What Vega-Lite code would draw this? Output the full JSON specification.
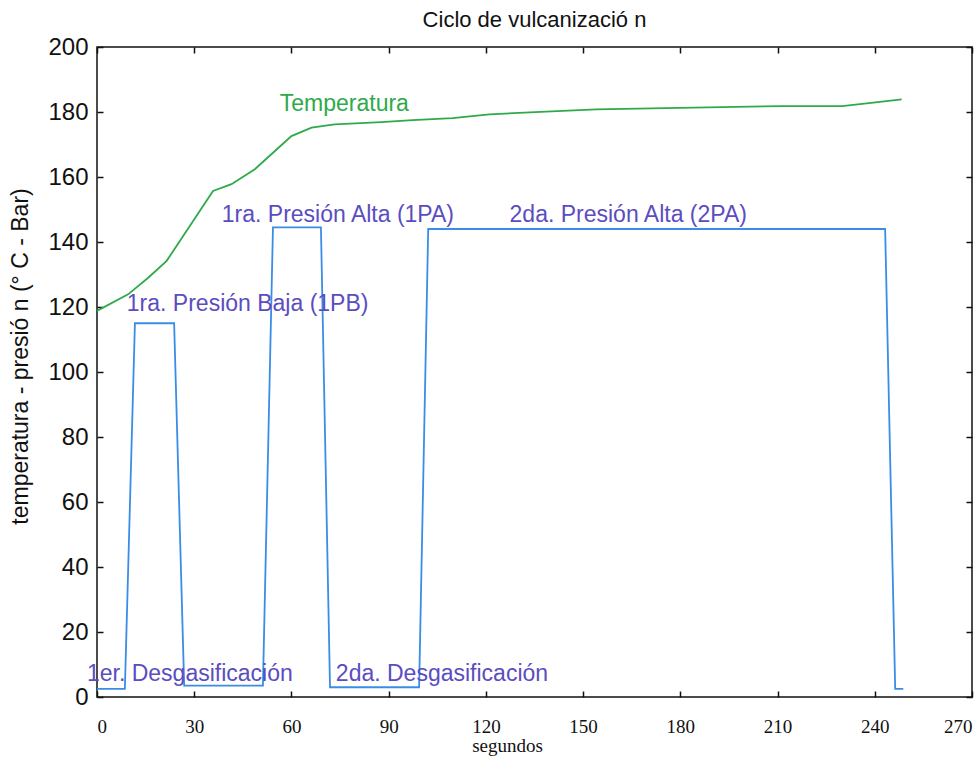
{
  "$schema": "https://vega.github.io/schema/vega-lite/v6.json",
  "width": 875,
  "height": 650,
  "autosize": {"type": "none"},
  "padding": {"left": 97, "top": 47, "right": 3, "bottom": 63},
  "background": "white",
  "title": {"text": "Ciclo de vulcanizació n", "font": "Liberation Sans", "fontSize": 22, "fontWeight": "normal", "color": "#111", "offset": 3},
  "config": {
    "view": {"stroke": "#111", "strokeWidth": 1.5},
    "axis": {"grid": false, "domain": false, "tickColor": "#111", "tickSize": -6, "tickWidth": 1.5, "labelColor": "#111", "titleColor": "#111"}
  },
  "datasets": {
    "pres": [
      {"t": 0, "v": 2.5}, {"t": 8.6, "v": 2.5}, {"t": 11.7, "v": 115}, {"t": 23.8, "v": 115},
      {"t": 26.9, "v": 3.5}, {"t": 51.2, "v": 3.5}, {"t": 54.3, "v": 144.5}, {"t": 69.1, "v": 144.5},
      {"t": 71.9, "v": 3}, {"t": 99.4, "v": 3}, {"t": 102.2, "v": 144}, {"t": 243.2, "v": 144},
      {"t": 246.3, "v": 2.5}, {"t": 248.8, "v": 2.5}
    ],
    "temp": [
      {"t": 0, "v": 118.8}, {"t": 9.6, "v": 123.9}, {"t": 15.8, "v": 129}, {"t": 21.5, "v": 134.2},
      {"t": 35.8, "v": 155.7}, {"t": 41.5, "v": 157.8}, {"t": 48.7, "v": 162.4}, {"t": 54.9, "v": 168},
      {"t": 60.0, "v": 172.6}, {"t": 66.2, "v": 175.2}, {"t": 73.3, "v": 176.2}, {"t": 87.7, "v": 176.9},
      {"t": 97.4, "v": 177.5}, {"t": 109.7, "v": 178.1}, {"t": 121.1, "v": 179.3}, {"t": 138.6, "v": 180.1},
      {"t": 154, "v": 180.8}, {"t": 179.7, "v": 181.3}, {"t": 211.4, "v": 181.8}, {"t": 229.9, "v": 181.8},
      {"t": 238.2, "v": 182.7}, {"t": 248.3, "v": 183.9}
    ],
    "labels": [
      {"t": 56.4, "v": 182.5, "label": "Temperatura", "kind": "temp"},
      {"t": 9.2, "v": 121, "label": "1ra. Presión Baja (1PB)", "kind": "pres"},
      {"t": 38.5, "v": 148.3, "label": "1ra. Presión Alta (1PA)", "kind": "pres"},
      {"t": 127.3, "v": 148.3, "label": "2da. Presión Alta (2PA)", "kind": "pres"},
      {"t": -3.1, "v": 7, "label": "1er. Desgasificación", "kind": "pres"},
      {"t": 73.7, "v": 7, "label": "2da. Desgasificación", "kind": "pres"}
    ]
  },
  "resolve": {"axis": {"x": "independent", "y": "independent"}},
  "layer": [
    {
      "data": {"name": "pres"},
      "mark": {"type": "line", "color": "#3a8de6", "strokeWidth": 1.8},
      "encoding": {
        "x": {"field": "t", "type": "quantitative", "scale": {"domain": [0, 270], "nice": false},
          "axis": {"values": [0, 30, 60, 90, 120, 150, 180, 210, 240, 270], "labelFont": "Liberation Serif", "labelFontSize": 19, "labelPadding": 26,
            "title": "segundos", "titleFont": "Liberation Serif", "titleFontSize": 19, "titleFontWeight": "normal", "titleX": 410, "titleY": 48, "titleBaseline": "middle"}},
        "y": {"field": "v", "type": "quantitative", "scale": {"domain": [0, 200], "nice": false},
          "axis": {"values": [0, 20, 40, 60, 80, 100, 120, 140, 160, 180, 200], "labelFont": "Liberation Sans", "labelFontSize": 24, "labelPadding": 15,
            "title": "temperatura - presió n (° C - Bar)", "titleFont": "Liberation Sans", "titleFontSize": 23, "titleFontWeight": "normal", "titleX": -77, "titleY": 309, "titleAngle": -90, "titleBaseline": "middle", "titleAlign": "center"}}
      }
    },
    {
      "data": {"name": "temp"},
      "mark": {"type": "line", "color": "#2eaa4a", "strokeWidth": 1.8},
      "encoding": {
        "x": {"field": "t", "type": "quantitative", "axis": {"orient": "top", "values": [0, 30, 60, 90, 120, 150, 180, 210, 240, 270], "labels": false, "title": null}},
        "y": {"field": "v", "type": "quantitative", "axis": {"orient": "right", "values": [0, 20, 40, 60, 80, 100, 120, 140, 160, 180, 200], "labels": false, "title": null}}
      }
    },
    {
      "data": {"name": "labels"},
      "mark": {"type": "text", "align": "left", "baseline": "middle", "font": "Liberation Sans", "fontSize": 23},
      "encoding": {
        "x": {"field": "t", "type": "quantitative", "axis": null},
        "y": {"field": "v", "type": "quantitative", "axis": null},
        "text": {"field": "label"},
        "color": {"field": "kind", "type": "nominal", "scale": {"domain": ["temp", "pres"], "range": ["#2eaa4a", "#5a4dbf"]}, "legend": null}
      }
    }
  ]
}
